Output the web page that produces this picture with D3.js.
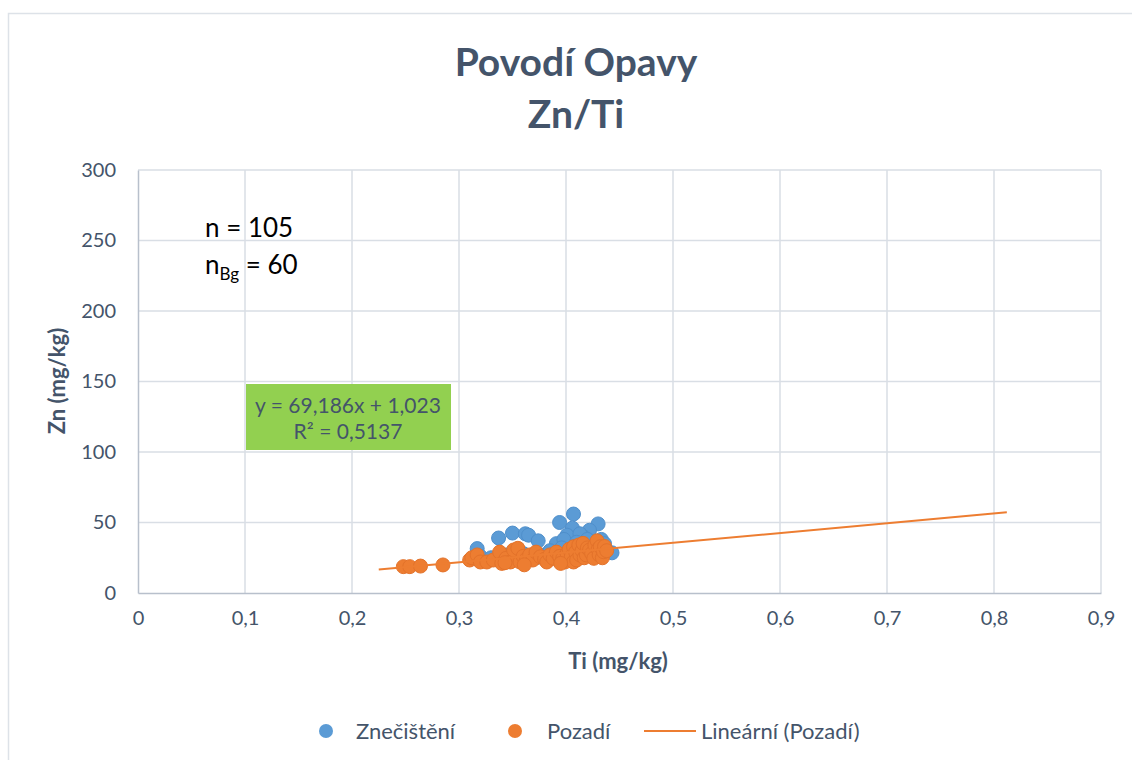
<!DOCTYPE html>
<html>
<head>
<meta charset="utf-8">
<script src="https://cdn.jsdelivr.net/npm/d3@7"></script>
<style>
  body { margin: 0; background: #fff; }
  svg { font-family: Lato, "Open Sans", sans-serif; }
</style>
</head>
<body>
<div id="chart"></div>
<script>
// Znečištění (blue) – Ti, Zn
const pollutedTi = [0.317, 0.337, 0.350, 0.362, 0.365, 0.374, 0.394, 0.407, 0.406, 0.430,
  0.422, 0.401, 0.416, 0.433, 0.443, 0.391, 0.425, 0.413, 0.398, 0.410,
  0.420, 0.427, 0.436, 0.404, 0.396, 0.320, 0.330, 0.345, 0.355, 0.360,
  0.368, 0.380, 0.385, 0.392, 0.403, 0.412, 0.418, 0.424, 0.430, 0.437,
  0.340, 0.372, 0.408, 0.415, 0.428];
const pollutedZn = [31.5, 39, 42.5, 42, 41, 37, 50, 56, 46, 49,
  44.5, 41, 40, 38, 28.5, 35, 36.5, 42, 38, 36,
  38, 33, 35, 31, 32, 26, 25, 27, 30, 28,
  26, 27, 30, 28, 27, 30, 29, 31, 28, 31,
  24, 25, 33, 34, 30];

// Pozadí (orange) – Ti, Zn
const backgroundTi = [0.248, 0.254, 0.264, 0.285,
  0.310, 0.312, 0.317, 0.320, 0.326, 0.332, 0.338, 0.340, 0.344, 0.348,
  0.351, 0.355, 0.357, 0.360, 0.363, 0.366, 0.369, 0.372, 0.376, 0.380,
  0.382, 0.385, 0.388, 0.391, 0.394, 0.397, 0.399, 0.401, 0.403, 0.405,
  0.407, 0.407, 0.409, 0.410, 0.412, 0.413, 0.415, 0.416, 0.417, 0.419,
  0.420, 0.422, 0.424, 0.426, 0.427, 0.429, 0.430, 0.431, 0.432, 0.434,
  0.435, 0.436, 0.438, 0.361, 0.343, 0.395];
const backgroundZn = [18.7, 18.7, 19.1, 19.9,
  23.4, 25, 27, 22, 22, 23.4, 29, 21, 24.6, 22,
  30.5, 31.7, 22, 26, 24, 27, 23.4, 29, 25.7, 24,
  22, 27, 24.6, 29, 26, 24.6, 22, 28, 31, 26,
  32.8, 22, 29, 23.4, 34, 27, 30, 35.2, 25, 27,
  32, 30.5, 28, 24.6, 34, 37, 31, 27, 32.8, 25,
  29.3, 33, 30, 20, 21.5, 21];

// trendline (Lineární (Pozadí))
const trendSlope = 69.186;
const trendIntercept = 1.023;
const trendRange = [0.225, 0.812];

const xTicks = [0, 0.1, 0.2, 0.3, 0.4, 0.5, 0.6, 0.7, 0.8, 0.9];
const yTicks = [0, 50, 100, 150, 200, 250, 300];

const BLUE = "#5B9BD5";
const ORANGE = "#ED7D31";
const TEXT = "#44546A";
const GRID = "#D9DEE5";
const AXIS = "#B8C0CC";

const width = 1132, height = 760;
const fmt = d => String(d).replace(".", ",");

const svg = d3.select("#chart").append("svg")
  .attr("width", width).attr("height", height);

// chart frame
svg.append("rect")
  .attr("x", 8.5).attr("y", 13.5)
  .attr("width", width + 10).attr("height", height + 10)
  .attr("fill", "#fff").attr("stroke", "#DDE2E8").attr("stroke-width", 1.5);

const x = d3.scaleLinear().domain([0, 0.9]).range([138, 1101]);
const y = d3.scaleLinear().domain([0, 300]).range([593, 170]);

// gridlines
svg.append("g").selectAll("line").data(xTicks.slice(1))
  .join("line")
  .attr("x1", d => x(d)).attr("x2", d => x(d))
  .attr("y1", y(0)).attr("y2", y(300))
  .attr("stroke", GRID).attr("stroke-width", 1.5);
svg.append("g").selectAll("line").data(yTicks.slice(1))
  .join("line")
  .attr("x1", x(0)).attr("x2", x(0.9))
  .attr("y1", d => y(d)).attr("y2", d => y(d))
  .attr("stroke", GRID).attr("stroke-width", 1.5);

// axes
const xAxis = svg.append("g")
  .attr("transform", `translate(0,${y(0)})`)
  .call(d3.axisBottom(x).tickValues(xTicks).tickFormat(fmt).tickSize(0).tickPadding(18));
const yAxis = svg.append("g")
  .attr("transform", `translate(${x(0)},0)`)
  .call(d3.axisLeft(y).tickValues(yTicks).tickSize(0).tickPadding(22));
[xAxis, yAxis].forEach(a => {
  a.select(".domain").attr("stroke", AXIS).attr("stroke-width", 1.5);
  a.selectAll("text").attr("fill", TEXT).attr("font-size", 20)
    .attr("font-family", "Lato, sans-serif");
});

// points
svg.append("g").selectAll("circle").data(pollutedTi)
  .join("circle")
  .attr("cx", d => x(d))
  .attr("cy", (d, i) => y(pollutedZn[i]))
  .attr("r", 7)
  .attr("fill", BLUE).attr("stroke", "#4F8FCB").attr("stroke-width", 1);

svg.append("g").selectAll("circle").data(backgroundTi)
  .join("circle")
  .attr("cx", d => x(d))
  .attr("cy", (d, i) => y(backgroundZn[i]))
  .attr("r", 7)
  .attr("fill", ORANGE).attr("stroke", "#E3722A").attr("stroke-width", 1);

// trendline
svg.append("line")
  .attr("x1", x(trendRange[0])).attr("y1", y(trendSlope * trendRange[0] + trendIntercept))
  .attr("x2", x(trendRange[1])).attr("y2", y(trendSlope * trendRange[1] + trendIntercept))
  .attr("stroke", ORANGE).attr("stroke-width", 2);

// title
svg.append("text").attr("x", 576).attr("y", 76)
  .attr("text-anchor", "middle").attr("font-weight", "bold")
  .attr("font-size", 39).attr("fill", TEXT).text("Povodí Opavy");
svg.append("text").attr("x", 576).attr("y", 128)
  .attr("text-anchor", "middle").attr("font-weight", "bold")
  .attr("font-size", 39).attr("fill", TEXT).text("Zn/Ti");

// axis titles
svg.append("text").attr("x", 618).attr("y", 669)
  .attr("text-anchor", "middle").attr("font-weight", "bold")
  .attr("font-size", 22).attr("fill", TEXT).text("Ti (mg/kg)");
svg.append("text")
  .attr("transform", "translate(65,381) rotate(-90)")
  .attr("text-anchor", "middle").attr("font-weight", "bold")
  .attr("font-size", 22).attr("fill", TEXT).text("Zn (mg/kg)");

// n annotation
svg.append("text").attr("x", 205).attr("y", 237)
  .attr("font-size", 26).attr("fill", "#000").text("n = 105");
const nbg = svg.append("text").attr("x", 205).attr("y", 274)
  .attr("font-size", 26).attr("fill", "#000");
nbg.append("tspan").text("n");
nbg.append("tspan").attr("font-size", 17).attr("dy", 6).text("Bg");
nbg.append("tspan").attr("dy", -6).text(" = 60");

// equation box
svg.append("rect").attr("x", 246).attr("y", 384)
  .attr("width", 205).attr("height", 66).attr("fill", "#92D050");
svg.append("text").attr("x", 348).attr("y", 413)
  .attr("text-anchor", "middle").attr("font-size", 21).attr("fill", TEXT)
  .text("y = 69,186x + 1,023");
svg.append("text").attr("x", 348).attr("y", 439)
  .attr("text-anchor", "middle").attr("font-size", 21).attr("fill", TEXT)
  .text("R² = 0,5137");

// legend
const legend = svg.append("g").attr("font-size", 22).attr("fill", TEXT);
legend.append("circle").attr("cx", 326).attr("cy", 731).attr("r", 7).attr("fill", BLUE);
legend.append("text").attr("x", 356).attr("y", 739).text("Znečištění");
legend.append("circle").attr("cx", 515).attr("cy", 731).attr("r", 7).attr("fill", ORANGE);
legend.append("text").attr("x", 547).attr("y", 739).text("Pozadí");
legend.append("line").attr("x1", 644).attr("x2", 696).attr("y1", 731).attr("y2", 731)
  .attr("stroke", ORANGE).attr("stroke-width", 2);
legend.append("text").attr("x", 701).attr("y", 739).text("Lineární (Pozadí)");
</script>
</body>
</html>
